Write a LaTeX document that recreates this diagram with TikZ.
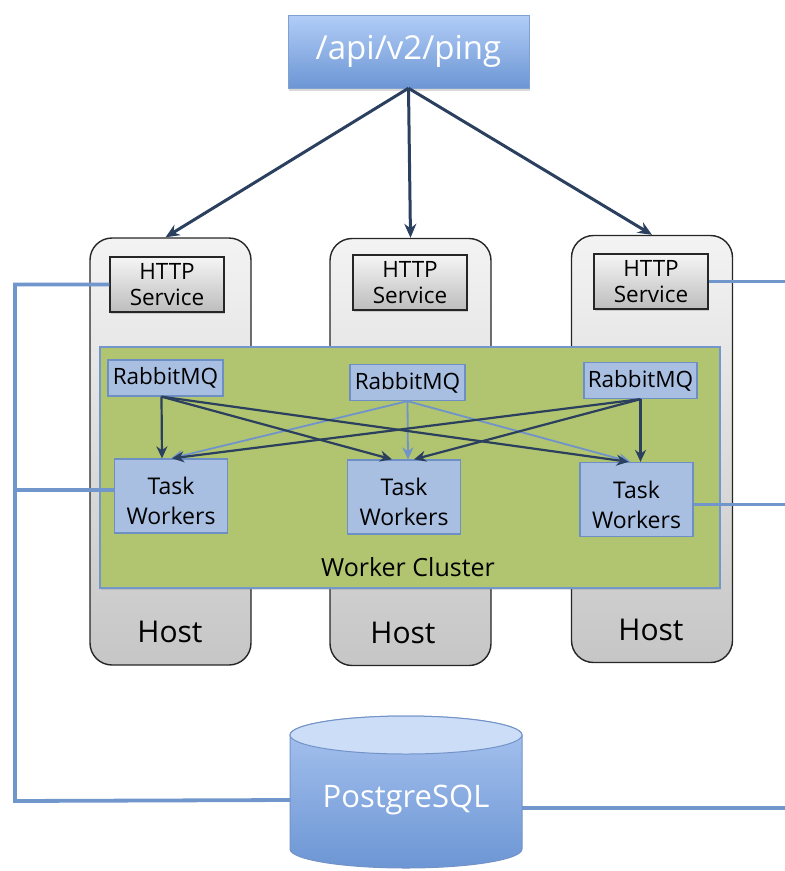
\documentclass[tikz,border=0pt]{standalone}
\usepackage{fontspec}
\setmainfont{Open Sans}
\usetikzlibrary{arrows.meta,shadows}

\definecolor{navy}{HTML}{2B3F5E}
\definecolor{lightarrow}{HTML}{6F93CA}
\definecolor{wirecol}{HTML}{7096CC}
\definecolor{pingtop}{HTML}{B2CDF7}
\definecolor{pingbot}{HTML}{6C96D4}
\definecolor{pingline}{HTML}{7FA0D0}
\definecolor{hosttop}{HTML}{F3F3F3}
\definecolor{hostbot}{HTML}{C6C6C6}
\definecolor{httptop}{HTML}{F5F5F5}
\definecolor{httpbot}{HTML}{BDBDBD}
\definecolor{clusterfill}{HTML}{B1C46F}
\definecolor{clusterline}{HTML}{7397CB}
\definecolor{mqfill}{HTML}{A8BFE2}
\definecolor{mqline}{HTML}{6E8FC4}
\definecolor{dbtop}{HTML}{A9C4F0}
\definecolor{dbbot}{HTML}{6C96D4}
\definecolor{dbcap}{HTML}{CCDDF7}
\definecolor{dbline}{HTML}{7393C8}

\begin{document}
\begin{tikzpicture}[x=1pt, y=-1pt,
  pingbox/.style={draw=pingline, top color=pingtop, bottom color=pingbot, text=white,
    minimum width=241pt, minimum height=73pt, font=\fontsize{33}{40}\selectfont,
    drop shadow={opacity=0.3, shadow xshift=1pt, shadow yshift=-3pt}},
  hostbox/.style={draw=black!85, line width=1.4pt, rounded corners=22pt,
    top color=hosttop, bottom color=hostbot, minimum width=161pt, minimum height=427pt},
  hostname/.style={font=\fontsize{30}{36}\selectfont},
  httpbox/.style={draw=black!85, line width=1.4pt, top color=httptop, bottom color=httpbot,
    minimum width=114pt, minimum height=55pt, align=center, font=\fontsize{22.5}{26}\selectfont,
    drop shadow={opacity=0.3, shadow xshift=1pt, shadow yshift=-2pt}},
  clusterbox/.style={draw=clusterline, line width=1.4pt, fill=clusterfill,
    minimum width=620pt, minimum height=241pt,
    drop shadow={opacity=0.25, shadow xshift=1pt, shadow yshift=-2pt}},
  mqbox/.style={draw=mqline, line width=1.3pt, fill=mqfill, minimum width=115pt,
    minimum height=36pt, inner sep=2pt, font=\fontsize{22.5}{26}\selectfont},
  workbox/.style={mqbox, minimum width=113pt, minimum height=74pt},
  worktext/.style={align=center, font=\fontsize{23}{30}\selectfont},
  call/.style={navy, line width=3pt, -{Stealth[length=14pt, width=12pt]}},
  feed/.style={navy, line width=2.2pt, -{Stealth[length=12pt, width=11pt]}},
  feedlight/.style={feed, lightarrow, line width=1.8pt},
  wire/.style={wirecol, line width=3.8pt}]
  \useasboundingbox (0,0) rectangle (785,871);

  \node[pingbox] (ping) at (408.5,51.5) {/api/v2/ping};

  \node[hostbox] (host1) at (170.5,451.5) {};
  \node[hostbox] (host2) at (410.5,452) {};
  \node[hostbox] (host3) at (652,449) {};
  \node[hostname] (hn1) at (170,632) {Host};
  \node[hostname] (hn2) at (403,633) {Host};
  \node[hostname] (hn3) at (651,630) {Host};

  \node[httpbox] (http1) at (167,284.5) {HTTP\\Service};
  \node[httpbox] (http2) at (410,282.5) {HTTP\\Service};
  \node[httpbox] (http3) at (651,281.5) {HTTP\\Service};

  \draw[call] (ping.south) -- ([xshift=-5pt]host1.north);
  \draw[call] (ping.south) -- (host2.north);
  \draw[call] (ping.south) -- (host3.north);

  \node[clusterbox] (wc) at (410,467.5) {};
  \node[font=\fontsize{25}{30}\selectfont] (wcl) at (408,567) {Worker Cluster};

  \node[mqbox] (mq1) at (165.5,378) {RabbitMQ};
  \node[mqbox] (mq2) at (407.5,382.5) {RabbitMQ};
  \node[mqbox, minimum width=113pt] (mq3) at (640.5,380.5) {RabbitMQ};

  \node[workbox] (tw1) at (171,496) {};
  \node[workbox] (tw2) at (404,497) {};
  \node[workbox] (tw3) at (636.5,499.5) {};
  \node[worktext] (twl1) at ([yshift=-5pt]tw1) {Task\\Workers};
  \node[worktext] (twl2) at ([yshift=-5pt]tw2) {Task\\Workers};
  \node[worktext] (twl3) at ([yshift=-5pt]tw3) {Task\\Workers};

  \draw[feedlight] (mq2.south) -- (tw1.north);
  \draw[feedlight] (mq2.south) -- ([xshift=4pt]tw2.north);
  \draw[feedlight] (mq2.south) -- ([xshift=-6pt]tw3.north);
  \draw[feed] ([xshift=-4pt]mq1.south) -- ([xshift=-9pt]tw1.north);
  \draw[feed] ([xshift=-4pt]mq1.south) -- ([xshift=-12pt]tw2.north);
  \draw[feed] ([xshift=-4pt]mq1.south) -- ([xshift=-8pt]tw3.north);
  \draw[feed] (mq3.south) -- ([xshift=1pt]tw1.north);
  \draw[feed] (mq3.south) -- ([xshift=10pt]tw2.north);
  \draw[feed] (mq3.south) -- ([xshift=4pt]tw3.north);

  \node[minimum width=232pt] (db) at (406,800) {};
  \coordinate (lft) at (15,801);
  \coordinate (rgt) at (790,808);

  \draw[wire] (http1.west) -| (lft) -- (db.west);
  \draw[wire] ([yshift=6pt]tw1.west) -- ([yshift=6pt]tw1.west -| lft);
  \draw[wire] (http3.east) -- (http3.east -| rgt);
  \draw[wire] ([yshift=-5pt]tw3.east) -- ([yshift=-5pt]tw3.east -| rgt);
  \draw[wire] ([yshift=-8pt]db.east) -- ([yshift=-8pt]db.east -| rgt);

  \shade[top color=dbtop, bottom color=dbbot, draw=dbline, line width=1pt]
    (290,735) -- (290,849) arc[start angle=180, end angle=0, x radius=116, y radius=19]
    -- (522,735) arc[start angle=0, end angle=-180, x radius=116, y radius=19] -- cycle;
  \draw[fill=dbcap, draw=dbline, line width=1pt] (406,735) ellipse[x radius=116, y radius=19];
  \node[text=white, font=\fontsize{31}{36}\selectfont] (dbl) at (db) {PostgreSQL};
\end{tikzpicture}
\end{document}
